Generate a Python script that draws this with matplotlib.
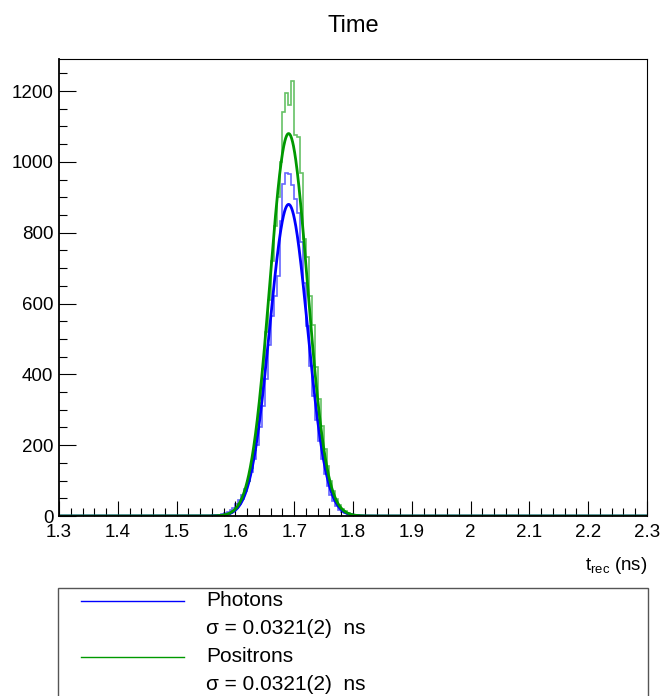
import numpy as np
import matplotlib
matplotlib.use('Agg')
import matplotlib.pyplot as plt
from matplotlib.lines import Line2D
from matplotlib.patches import Rectangle

plt.rcParams['font.family'] = ['Liberation Sans', 'DejaVu Sans']
plt.rcParams['mathtext.fontset'] = 'custom'
plt.rcParams['mathtext.rm'] = 'Liberation Sans'

# histogram binning (ns)
x_min, x_max, bin_w = 1.3, 2.3, 0.005
first_bin = 1.550  # low edge of the first non-empty bin listed below

# counts per 0.005 ns bin, starting at 1.550
photons = [1, 1, 2, 3, 4, 6, 8, 12, 17, 24,
           33, 44, 58, 76, 98, 125, 160, 200, 250, 312,
           386, 484, 564, 620, 677, 833, 937, 968, 965, 934,
           894, 857, 775, 659, 536, 423, 340, 272, 212, 160,
           118, 85, 60, 42, 28, 18, 12, 8, 5, 3,
           2, 1, 1]
positrons = [0, 0, 1, 1, 2, 3, 4, 6, 9, 14,
             22, 33, 48, 70, 98, 135, 185, 245, 320, 415,
             520, 610, 720, 820, 900, 1000, 1140, 1194, 1160, 1229,
             1075, 1069, 970, 781, 730, 620, 540, 420, 330, 255,
             190, 140, 100, 70, 48, 32, 20, 13, 8, 5,
             3, 2, 1]

# gaussian fit results
fit_mean = [1.6905, 1.6905]
fit_sigma = [0.0321, 0.0321]
fit_amp = [880, 1080]

labels = ['Photons', 'Positrons']
sigma_text = ['\u03c3 = 0.0321(2)  ns', '\u03c3 = 0.0321(2)  ns']
hist_colors = ['#0000ff', '#009900']
fit_colors = ['#0000ff', '#009900']

edges = np.round(np.arange(x_min, x_max + bin_w / 2, bin_w), 4)
start = int(round((first_bin - x_min) / bin_w))

fig = plt.figure(figsize=(6.6, 6.96), dpi=100)
ax = fig.add_axes([0.0894, 0.2586, 0.8909, 0.6566])

xf = np.linspace(x_min, x_max, 2000)
for i, data in enumerate([photons, positrons]):
    counts = np.zeros(len(edges) - 1)
    counts[start:start + len(data)] = data
    ax.stairs(counts, edges, color=hist_colors[i], lw=1.2, alpha=0.6)
    yf = fit_amp[i] * np.exp(-0.5 * ((xf - fit_mean[i]) / fit_sigma[i]) ** 2)
    ax.plot(xf, yf, color=fit_colors[i], lw=2.0)

ax.set_xlim(x_min, x_max)
ax.set_ylim(0, 1.05 * max(positrons))
ax.set_xticks(np.round(np.arange(1.3, 2.31, 0.1), 1))
ax.set_xticklabels(['1.3', '1.4', '1.5', '1.6', '1.7', '1.8', '1.9', '2', '2.1', '2.2', '2.3'])
ax.set_xticks(np.arange(1.3, 2.3001, 0.02), minor=True)
ax.set_yticks(np.arange(0, 1201, 200))
ax.set_yticks(np.arange(0, 1291, 50), minor=True)
ax.tick_params(which='both', direction='in', top=False, right=False,
               labelsize=13.5, width=0.8, color='black')
ax.tick_params(axis='y', which='major', length=12, pad=4)
ax.tick_params(axis='y', which='minor', length=6)
ax.tick_params(axis='x', which='major', length=11, pad=5.5)
ax.tick_params(axis='x', which='minor', length=5.5)
for s in ['top', 'right']:
    ax.spines[s].set_linewidth(0.8)
for s in ['left', 'bottom']:
    ax.spines[s].set_linewidth(1.3)

ax.text(1.0, -0.085, r'$\mathrm{t_{rec}}$ (ns)', transform=ax.transAxes,
        ha='right', va='top', fontsize=13.5)

fig.text(0.535, 0.962, 'Time', ha='center', va='center', fontsize=17)

# legend box (runs off the bottom of the canvas)
H = 696.0
fig.patches.append(Rectangle((58 / 660, -0.1), (648 - 58) / 660, (H - 588) / H + 0.1,
                             transform=fig.transFigure, fill=False,
                             edgecolor='#555555', lw=1.0))
rows_y = [601, 629, 657, 685]
for i in range(2):
    yl = 1 - rows_y[2 * i] / H
    fig.lines.append(Line2D([81 / 660, 184 / 660], [yl, yl], transform=fig.transFigure,
                            color=fit_colors[i], lw=1.0))
    fig.text(206 / 660, yl, labels[i], ha='left', va='center', fontsize=15)
    fig.text(206 / 660, 1 - rows_y[2 * i + 1] / H, sigma_text[i],
             ha='left', va='center', fontsize=15)

fig.savefig('out.png', dpi=100)
